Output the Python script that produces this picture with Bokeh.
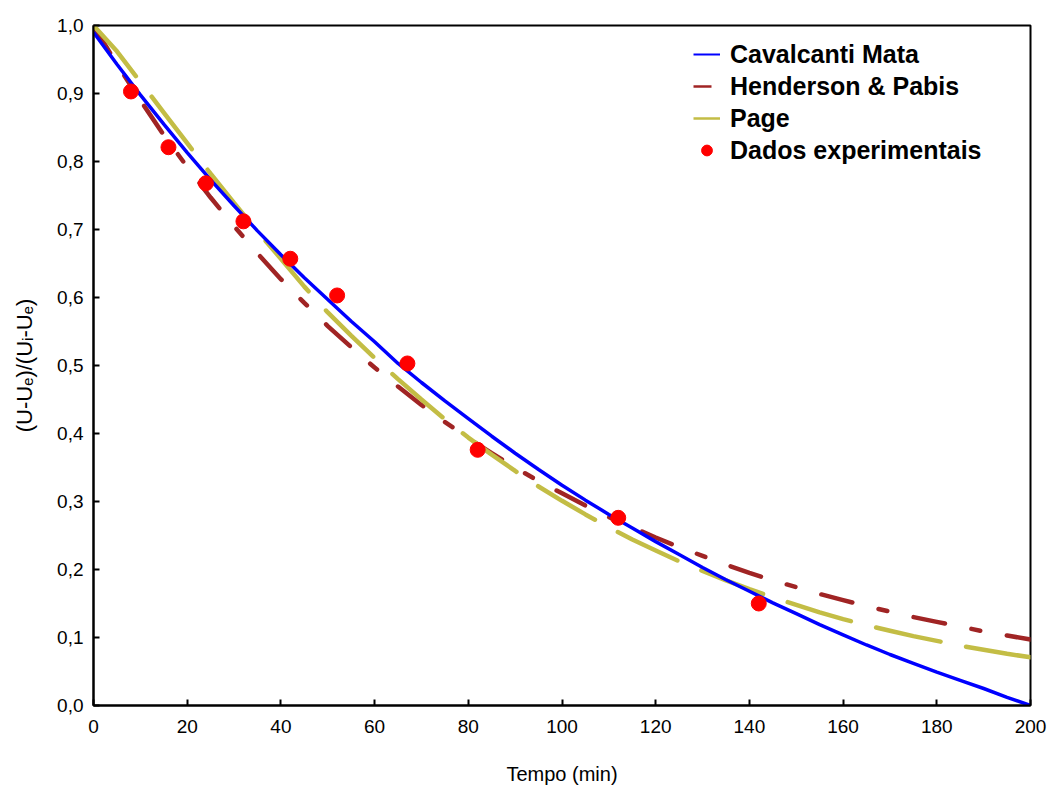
from bokeh.plotting import figure
from bokeh.models import Legend, LegendItem, FixedTicker, CustomJSTickFormatter, ColumnDataSource
from bokeh.embed import file_html
from bokeh.resources import INLINE

# ---- data ----
t_curve = [0, 5, 10, 15, 20, 25, 30, 35, 40, 45, 50, 55, 60, 65, 70, 75, 80, 85, 90, 95, 100,
           105, 110, 115, 120, 125, 130, 135, 140, 145, 150, 155, 160, 165, 170, 175, 180, 185, 190, 195, 200]
cavalcanti = [0.990, 0.943, 0.898, 0.855, 0.813, 0.773, 0.735, 0.698, 0.663, 0.629, 0.597, 0.565, 0.535, 0.503,
              0.475, 0.448, 0.422, 0.396, 0.371, 0.347, 0.324, 0.302, 0.281, 0.261, 0.241, 0.222, 0.203, 0.185,
              0.168, 0.151, 0.135, 0.119, 0.104, 0.089, 0.075, 0.062, 0.049, 0.037, 0.025, 0.012, 0.0]
henderson = [1.0, 0.943, 0.890, 0.839, 0.792, 0.747, 0.705, 0.665, 0.627, 0.592, 0.558, 0.527, 0.497, 0.469,
             0.442, 0.417, 0.393, 0.371, 0.350, 0.330, 0.312, 0.294, 0.277, 0.262, 0.247, 0.233, 0.220, 0.207,
             0.195, 0.184, 0.174, 0.164, 0.155, 0.146, 0.138, 0.130, 0.123, 0.116, 0.109, 0.103, 0.097]
page = [1.0, 0.962, 0.917, 0.872, 0.827, 0.782, 0.739, 0.697, 0.657, 0.616, 0.578, 0.544, 0.511, 0.480,
        0.450, 0.421, 0.394, 0.369, 0.345, 0.322, 0.301, 0.281, 0.262, 0.244, 0.228, 0.212, 0.198, 0.184,
        0.171, 0.159, 0.148, 0.137, 0.127, 0.118, 0.110, 0.102, 0.095, 0.088, 0.082, 0.076, 0.071]

t_exp = [8, 16, 24, 32, 42, 52, 67, 82, 112, 142]
y_exp = [0.903, 0.821, 0.768, 0.712, 0.657, 0.603, 0.503, 0.376, 0.276, 0.150]

x_ticks = [0, 20, 40, 60, 80, 100, 120, 140, 160, 180, 200]
y_ticks = [0.0, 0.1, 0.2, 0.3, 0.4, 0.5, 0.6, 0.7, 0.8, 0.9, 1.0]

series_names = ["Cavalcanti Mata", "Henderson & Pabis", "Page", "Dados experimentais"]

FONT = "Liberation Sans"
C_BLUE = "#0000FF"
C_HP = "#A02424"
C_PAGE = "#C3BD45"
C_DOT = "#FF0000"

p = figure(width=1050, height=787, output_backend="svg", toolbar_location=None,
           x_range=(0, 200), y_range=(0, 1.0),
           min_border_left=93, min_border_right=20, min_border_top=25, min_border_bottom=82)
p.xgrid.visible = False
p.ygrid.visible = False
p.outline_line_color = "black"
p.outline_line_width = 2
p.background_fill_color = "white"
p.border_fill_color = "white"

src_c = ColumnDataSource(dict(t=t_curve, y=cavalcanti))
src_h = ColumnDataSource(dict(t=t_curve, y=henderson))
src_p = ColumnDataSource(dict(t=t_curve, y=page))
src_e = ColumnDataSource(dict(t=t_exp, y=y_exp))

p.line("t", "y", source=src_h, line_color=C_HP, line_width=4.5, line_dash="32 27 9 27", line_cap="round")
p.line("t", "y", source=src_p, line_color=C_PAGE, line_width=4.5, line_dash="66 26", line_cap="round")
p.line("t", "y", source=src_c, line_color=C_BLUE, line_width=3.5)
p.scatter("t", "y", source=src_e, size=15, fill_color=C_DOT, line_color=C_DOT)

# legend-only renderers (thin legend swatches like the original); one NaN point so nothing is drawn in the plot
nan = float("nan")
empty = ColumnDataSource(dict(t=[nan], y=[nan]))
lg_c = p.line("t", "y", source=empty, line_color=C_BLUE, line_width=2)
lg_h = p.line("t", "y", source=empty, line_color=C_HP, line_width=2.5, line_dash="18 40")
lg_p = p.line("t", "y", source=empty, line_color=C_PAGE, line_width=2.5)
lg_e = p.scatter("t", "y", source=empty, size=14, fill_color=C_DOT, line_color=C_DOT)

for ax in (p.xaxis[0], p.yaxis[0]):
    ax.major_tick_in = 6
    ax.major_tick_out = 0
    ax.minor_tick_in = 0
    ax.minor_tick_out = 0
    ax.axis_line_width = 2
    ax.major_tick_line_width = 2
    ax.major_label_text_font = FONT
    ax.major_label_text_font_size = "19px"
    ax.major_label_text_color = "black"
    ax.axis_label_text_font = FONT
    ax.axis_label_text_font_size = "20px"
    ax.axis_label_text_font_style = "normal"
    ax.axis_label_text_color = "black"

p.xaxis[0].ticker = FixedTicker(ticks=x_ticks)
p.yaxis[0].ticker = FixedTicker(ticks=y_ticks)
p.yaxis[0].formatter = CustomJSTickFormatter(code="return tick.toFixed(1).replace('.', ',');")
p.xaxis[0].major_label_standoff = 14
p.yaxis[0].major_label_standoff = 10
p.xaxis[0].axis_label = "Tempo (min)"
p.yaxis[0].axis_label = "(U-U\u2091)/(U\u1d62-U\u2091)"
p.yaxis[0].axis_label_text_font_size = "22px"
p.xaxis[0].axis_label_standoff = 27
p.yaxis[0].axis_label_standoff = 17

legend = Legend(items=[
    LegendItem(label=series_names[0], renderers=[lg_c]),
    LegendItem(label=series_names[1], renderers=[lg_h]),
    LegendItem(label=series_names[2], renderers=[lg_p]),
    LegendItem(label=series_names[3], renderers=[lg_e]),
], location=(600, 539))
legend.border_line_color = None
legend.background_fill_alpha = 0
legend.label_text_font = FONT
legend.label_text_font_style = "bold"
legend.label_text_font_size = "25px"
legend.label_text_color = "black"
legend.glyph_width = 27
legend.glyph_height = 32
legend.label_height = 32
legend.spacing = 0
legend.padding = 0
legend.margin = 0
legend.label_standoff = 10
p.add_layout(legend)

open("out.html", "w").write(file_html(p, INLINE))
